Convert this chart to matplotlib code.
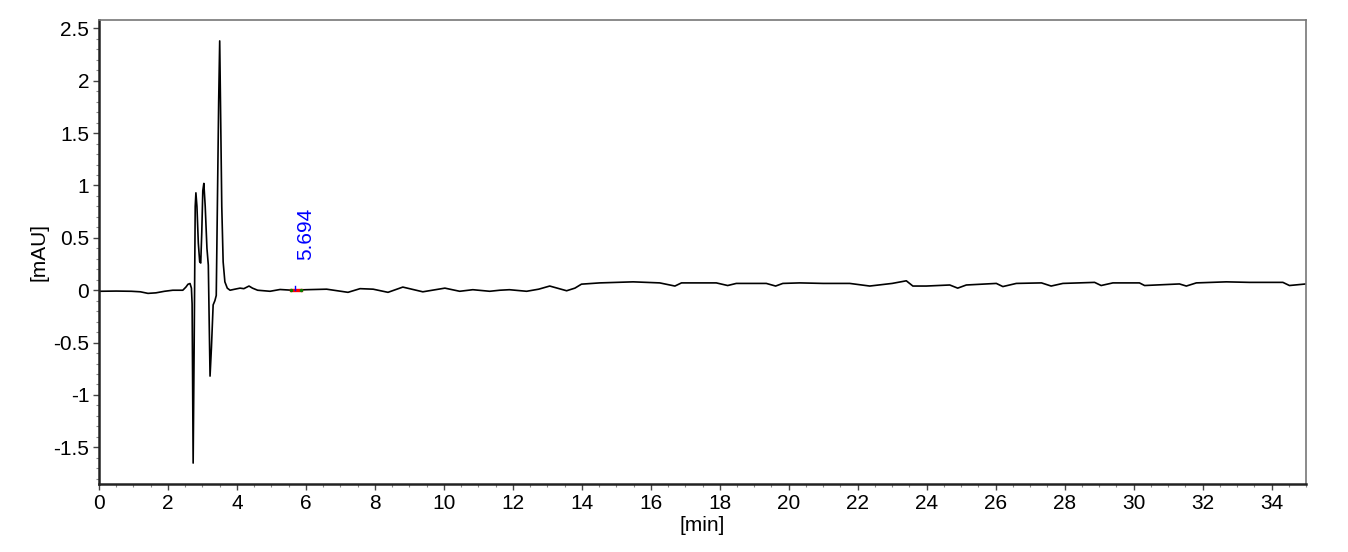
import matplotlib
matplotlib.use("Agg")
import matplotlib.pyplot as plt
from matplotlib.ticker import MultipleLocator

# ---------------- DATA ----------------

time_min = [
    0.00, 0.50, 0.94, 1.20, 1.42, 1.65, 1.90, 2.14, 2.43, 2.52, 2.58, 2.64, 2.68,
    2.70, 2.73, 2.76, 2.79, 2.81, 2.84, 2.88, 2.92, 2.95, 2.98, 3.01, 3.04,
    3.08, 3.13, 3.17, 3.20, 3.22, 3.26, 3.31, 3.36, 3.40, 3.44, 3.47, 3.50,
    3.53, 3.56, 3.60, 3.65, 3.72, 3.80, 3.94, 4.09, 4.20, 4.35, 4.45, 4.60,
    4.96, 5.25, 5.60, 6.00, 6.60, 7.22, 7.57, 7.95, 8.38, 8.81, 9.39, 10.03,
    10.46, 10.84, 11.33, 11.62, 11.90, 12.40, 12.75, 13.07, 13.56, 13.80,
    13.99, 14.52, 15.49, 16.26, 16.70, 16.89, 17.90, 18.23, 18.48, 19.35,
    19.62, 19.83, 20.32, 21.00, 21.77, 22.35, 23.00, 23.41, 23.60, 23.99,
    24.67, 24.90, 25.15, 26.02, 26.21, 26.60, 27.33, 27.61, 27.95, 28.87,
    29.06, 29.40, 30.17, 30.32, 31.33, 31.53, 31.82, 32.69, 33.36, 34.33,
    34.52, 35.00,
]

signal_mau = [
    -0.010, -0.008, -0.010, -0.015, -0.030, -0.025, -0.010, 0.000, 0.000, 0.030,
    0.057, 0.064, 0.020,
    -0.130, -1.650, -0.500, 0.800, 0.930, 0.800, 0.450, 0.270, 0.260, 0.550,
    0.950, 1.020,
    0.800, 0.400, 0.240, -0.400, -0.820, -0.550, -0.140, -0.100, -0.050, 1.000,
    1.800, 2.380,
    1.600, 0.800, 0.270, 0.080, 0.020, 0.000, 0.010, 0.020, 0.015, 0.040,
    0.020, 0.000,
    -0.010, 0.007, 0.000, 0.005, 0.010, -0.020, 0.015, 0.010, -0.020, 0.030,
    -0.015, 0.020,
    -0.010, 0.005, -0.010, 0.000, 0.005, -0.010, 0.010, 0.040, -0.005, 0.020,
    0.058, 0.070, 0.080, 0.070, 0.040, 0.070, 0.070, 0.045, 0.065, 0.065,
    0.040, 0.065, 0.070, 0.065, 0.065, 0.040, 0.065, 0.090, 0.040, 0.040,
    0.050, 0.020, 0.050, 0.065, 0.035, 0.065, 0.070, 0.040, 0.065, 0.075,
    0.045, 0.070, 0.070, 0.045, 0.060, 0.040, 0.070, 0.080, 0.075, 0.075,
    0.045, 0.060,
]

peak_rt = 5.694
peak_label = "5.694"
peak_start = 5.56
peak_end = 5.87

# ---------------- FIGURE ----------------

plt.rcParams['font.family'] = ['Liberation Sans', 'DejaVu Sans']

fig = plt.figure(figsize=(13.48, 5.52), dpi=100)
ax = fig.add_axes([99 / 1348, 1 - 484 / 552, (1306 - 99) / 1348, (484 - 20) / 552])

ax.plot(time_min, signal_mau, color='black', linewidth=1.2)

# integration baseline + retention time marker
ax.plot([peak_start, peak_end], [0, 0], color='red', linewidth=2.4)
ax.plot([peak_start, peak_end], [0, 0], 'o', color='green', markersize=1.5)
ax.plot([peak_rt, peak_rt], [0, 0.045], color='blue', linewidth=1)
ax.text(peak_rt + 0.02, 0.29, peak_label, rotation=90, color='blue',
        fontsize=15, ha='left', va='bottom')

ax.set_xlim(0, 35)
ax.set_ylim(-1.85, 2.58)

ax.xaxis.set_major_locator(MultipleLocator(2))
ax.xaxis.set_minor_locator(MultipleLocator(0.5))
ax.yaxis.set_major_locator(MultipleLocator(0.5))
ax.yaxis.set_minor_locator(MultipleLocator(0.1))
ax.yaxis.set_major_formatter(plt.FuncFormatter(lambda v, p: f"{v:g}"))

ax.tick_params(which='major', length=4, width=1, labelsize=15, pad=3, color='#444444')
ax.tick_params(which='minor', length=2, width=0.8, color='#888888')

for side in ['left', 'bottom']:
    ax.spines[side].set_linewidth(1.8)
    ax.spines[side].set_color('#222222')
for side in ['top', 'right']:
    ax.spines[side].set_linewidth(1.2)
    ax.spines[side].set_color('#777777')

ax.set_xlabel("[min]", fontsize=15)
ax.set_ylabel("[mAU]", fontsize=15)
ax.xaxis.set_label_coords(0.5, -0.068)
ax.yaxis.set_label_coords(-0.042, 0.5)

fig.savefig("out.png", dpi=100)
